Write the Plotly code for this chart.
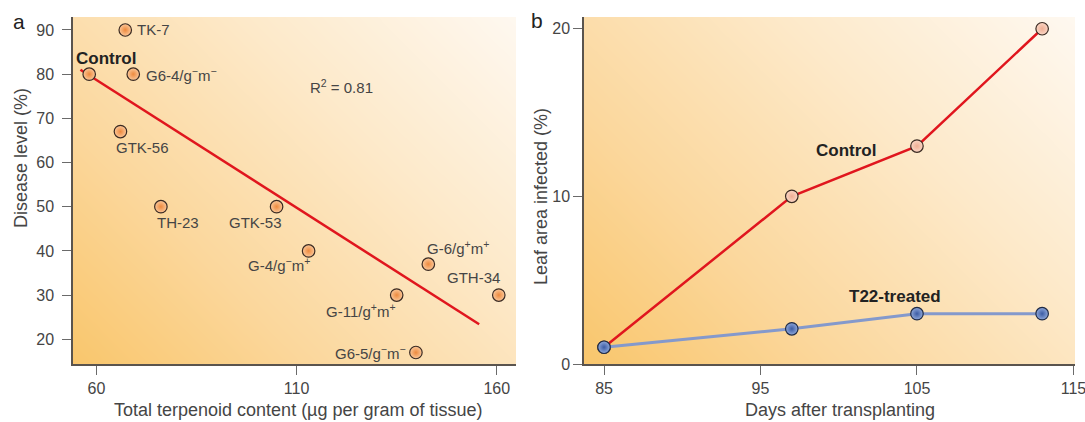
import numpy as np
import plotly.graph_objects as go

# ---------------- data ----------------
# Panel a
strains = ["Control", "TK-7", "G6-4/g<sup>−</sup>m<sup>−</sup>", "GTK-56", "TH-23", "GTK-53",
           "G-4/g<sup>−</sup>m<sup>+</sup>", "G-6/g<sup>+</sup>m<sup>+</sup>", "GTH-34",
           "G-11/g<sup>+</sup>m<sup>+</sup>", "G6-5/g<sup>−</sup>m<sup>−</sup>"]
terpenoid = [58.2, 67.2, 69.2, 66.0, 76.1, 105.0, 113.0, 142.9, 160.5, 135.0, 139.8]
disease = [80, 90, 80, 67, 50, 50, 40, 37, 30, 30, 17]
fit_x = [56.0, 155.6]
fit_y = [81.0, 23.4]
r2_text = "R<sup>2</sup> = 0.81"

# label placement (data coords) and anchors
label_x = [62.3, 69.6, 71.8, 71.4, 80.4, 99.7, 105.5, 150.4, 154.2, 126.1, 128.5]
label_y = [83.6, 90, 80, 63.4, 46.4, 46.4, 37.0, 40.7, 33.9, 26.6, 17.0]
label_anchor = ["center", "left", "left", "center", "center", "center", "center",
                "center", "center", "center", "center"]

# Panel b
days = [85, 97, 105, 113]
control_leaf = [1.0, 10.0, 13.0, 20.0]
t22_leaf = [1.0, 2.1, 3.0, 3.0]

a_xticks = [60, 110, 160]
a_yticks = [20, 30, 40, 50, 60, 70, 80, 90]
b_xticks = [85, 95, 105, 115]
b_yticks = [0, 10, 20]

a_xrange = [54.15, 164.8]
a_yrange = [14.4, 92.94]
b_xrange = [83.72, 115.1]
b_yrange = [0, 20.7]

# ---------------- figure ----------------
W, H = 1085, 422
FONT = "Liberation Sans, Arial, sans-serif"
TXT = "#454545"

fig = go.Figure()

bg_scale = [[0.0, "#F9C66C"], [0.3, "#FBD79C"], [0.65, "#FDE9C9"], [1.0, "#FEF8F0"]]


def add_bg(xr, yr, xa, ya, wpx, hpx):
    nx, ny = 40, 30
    xs = np.linspace(xr[0], xr[1], nx)
    ys = np.linspace(yr[0], yr[1], ny)
    u = np.linspace(0, 1, nx)[None, :] * wpx
    v = np.linspace(0, 1, ny)[:, None] * hpx
    z = (u + v) / (wpx + hpx)
    fig.add_trace(go.Heatmap(x=xs, y=ys, z=z, colorscale=bg_scale, zmin=0, zmax=1,
                             showscale=False, hoverinfo="skip", zsmooth="best",
                             xaxis=xa, yaxis=ya))


add_bg(a_xrange, a_yrange, "x", "y", 443, 347)
add_bg(b_xrange, b_yrange, "x2", "y2", 491, 347)

# panel a
fig.add_trace(go.Scatter(x=fit_x, y=fit_y, mode="lines",
                         line=dict(color="#E0161E", width=2.5),
                         xaxis="x", yaxis="y", hoverinfo="skip"))
fig.add_trace(go.Scatter(x=terpenoid, y=disease, mode="markers",
                         marker=dict(size=12.5, color="#FBC89A",
                                     gradient=dict(type="radial", color="#EE8A3E"),
                                     line=dict(color="#3A2A22", width=1.2)),
                         xaxis="x", yaxis="y"))

# panel b
fig.add_trace(go.Scatter(x=days, y=control_leaf, mode="lines+markers",
                         line=dict(color="#E0161E", width=2.5),
                         marker=dict(size=12.5, color="#FBD7C6",
                                     gradient=dict(type="radial", color="#EFAE94"),
                                     line=dict(color="#3A2A22", width=1.2)),
                         xaxis="x2", yaxis="y2"))
fig.add_trace(go.Scatter(x=days, y=t22_leaf, mode="lines+markers",
                         line=dict(color="#8499CC", width=3),
                         marker=dict(size=12.5, color="#8FA8DA",
                                     gradient=dict(type="radial", color="#3C5CA4"),
                                     line=dict(color="#1E2A45", width=1.2)),
                         xaxis="x2", yaxis="y2"))

axis_common = dict(showgrid=False, zeroline=False, showline=True, linecolor="#5A544E",
                   linewidth=1.5, ticks="outside", ticklen=9, tickwidth=1.3,
                   tickcolor="#6A6A6A", tickfont=dict(family=FONT, size=16, color=TXT),
                   automargin=False, fixedrange=True, ticklabeloverflow="allow")

y0, y1 = 1 - 364 / H, 1 - 17 / H
fig.update_layout(
    width=W, height=H, margin=dict(l=0, r=0, t=0, b=0),
    paper_bgcolor="white", plot_bgcolor="white", showlegend=False,
    font=dict(family=FONT, color=TXT),
    xaxis=dict(domain=[73 / W, 516 / W], range=a_xrange, tickvals=a_xticks, anchor="y",
               **axis_common),
    yaxis=dict(domain=[y0, y1], range=a_yrange, tickvals=a_yticks, anchor="x",
               ticklabelstandoff=5, **axis_common),
    xaxis2=dict(domain=[584 / W, 1075 / W], range=b_xrange, tickvals=b_xticks, anchor="y2",
                **axis_common),
    yaxis2=dict(domain=[y0, y1], range=b_yrange, tickvals=b_yticks, anchor="x2",
                ticklabelstandoff=0, **axis_common),
)

ann = []
# point labels panel a
for i, (t, lx, ly, anc) in enumerate(zip(strains, label_x, label_y, label_anchor)):
    bold = i == 0
    ann.append(dict(x=lx, y=ly, xref="x", yref="y", text=f"<b>{t}</b>" if bold else t,
                    showarrow=False, xanchor=anc, yanchor="middle",
                    font=dict(family=FONT, size=17 if bold else 15,
                              color="#222222" if bold else TXT)))
ann.append(dict(x=121.1, y=77.3, xref="x", yref="y", text=r2_text, showarrow=False,
                xanchor="center", yanchor="middle",
                font=dict(family=FONT, size=15, color=TXT)))
# panel b labels
ann.append(dict(x=100.45, y=12.75, xref="x2", yref="y2", text="<b>Control</b>",
                showarrow=False, xanchor="center", yanchor="middle",
                font=dict(family=FONT, size=17, color="#222222")))
ann.append(dict(x=103.6, y=4.02, xref="x2", yref="y2", text="<b>T22-treated</b>",
                showarrow=False, xanchor="center", yanchor="middle",
                font=dict(family=FONT, size=17, color="#222222")))


def paper_text(px, py, text, size, color=TXT, angle=0):
    return dict(x=px / W, y=1 - py / H, xref="paper", yref="paper", text=text,
                showarrow=False, xanchor="center", yanchor="middle", textangle=angle,
                font=dict(family=FONT, size=size, color=color))


# axis titles
ann.append(paper_text(298, 410, "Total terpenoid content (µg per gram of tissue)", 18))
ann.append(paper_text(840, 410, "Days after transplanting", 18))
ann.append(paper_text(21, 158, "Disease level (%)", 18, angle=-90))
ann.append(paper_text(541, 197, "Leaf area infected (%)", 18, angle=-90))
# panel letters
ann.append(paper_text(19, 22, "a", 21, "#222222"))
ann.append(paper_text(537, 20, "b", 21, "#222222"))
fig.update_layout(annotations=ann)

fig.write_html("out.html", post_script="document.body.style.margin='0px';",
               config={"displayModeBar": False})
